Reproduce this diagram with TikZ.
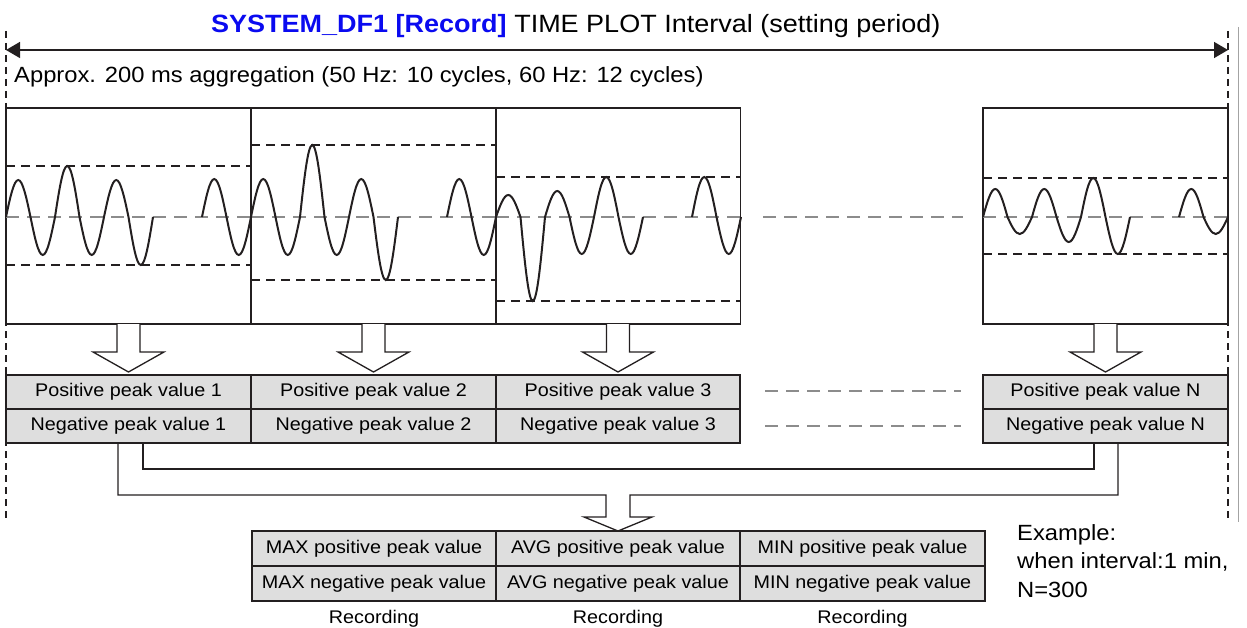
\documentclass[tikz,border=0pt]{standalone}
\usepackage{fontspec}
\setmainfont{Liberation Sans}[FakeStretch=1.08]
\usetikzlibrary{arrows.meta,calc}
\definecolor{ink}{RGB}{35,31,32}
\definecolor{titleblue}{RGB}{10,10,240}
\definecolor{cellfill}{RGB}{222,222,222}
\definecolor{midgray}{RGB}{140,140,140}
\newcommand{\wc}[2]{sin ++(12.25,-#1) cos ++(12.25,#1) sin ++(12.25,#2) cos ++(12.25,-#2)}
\tikzset{
  wbox/.style={draw=ink, line width=1.5pt, minimum width=245pt, minimum height=216pt, inner sep=0pt, outer sep=0pt},
  cell/.style={draw=ink, line width=1.3pt, fill=cellfill, minimum height=34pt, inner sep=0pt, outer sep=0pt, font=\fontsize{18.3}{22}\selectfont},
  bcell/.style={draw=ink, line width=1.3pt, fill=cellfill, minimum width=244pt, minimum height=35pt, inner sep=0pt, outer sep=0pt, font=\fontsize{18.3}{22}\selectfont},
  wave/.style={draw=ink, line width=2pt},
  peak/.style={draw=ink, line width=1.6pt, dash pattern=on 9pt off 6pt},
  mid/.style={draw=midgray, line width=1.2pt, dash pattern=on 13pt off 8pt},
  vdash/.style={draw=ink, line width=1.5pt, dash pattern=on 7pt off 5pt},
  blockarrow/.style={draw=ink, line width=1.3pt, fill=white},
  conn/.style={draw=ink, line width=1.3pt},
  lbl/.style={inner sep=0pt, font=\fontsize{22}{28}\selectfont},
}
\begin{document}
\begin{tikzpicture}[x=1pt,y=-1pt]
\useasboundingbox (0,0) rectangle (1247,628);
% title
\node[lbl, anchor=base west, font=\fontsize{25}{30}\selectfont] (title) at (211,33)
  {{\color{titleblue}\bfseries SYSTEM\_DF1 [Record]} TIME PLOT Interval (setting period)};
% boundary markers
\coordinate (lt) at (6,31);
\coordinate (lb) at (6,518);
\coordinate (rt) at (1228,31);
\coordinate (rb) at (1228,518);
\draw[vdash] (lt) -- (lb);
\draw[vdash] (rt) -- (rb);
\coordinate (gt) at (1238,27);
\coordinate (gb) at (1238,522);
\draw[draw=midgray!80, line width=1pt] (gt) -- (gb);
\coordinate (al) at (6,50);
\coordinate (ar) at (1228,50);
\draw[ink, line width=1.5pt, {Triangle[length=14pt,width=16pt]}-{Triangle[length=14pt,width=16pt]}] (al) -- (ar);
\node[lbl, anchor=base west] (approx) at (14,83) {Approx. 200 ms aggregation (50 Hz: 10 cycles, 60 Hz: 12 cycles)};
% waveform boxes
\node[wbox] (w1) at (128.5,216) {};
\node[wbox] (w2) at (373.5,216) {};
\node[wbox] (w3) at (618,216) {};
\node[wbox] (wN) at (1105.5,216) {};
% midlines
\draw[mid] (6,217) -- (251,217);
\draw[mid] (251,217) -- (496,217);
\draw[mid] (496,217) -- (740,217);
\draw[mid] (763,217) -- (963,217);
\draw[mid] (983,217) -- (1228,217);
% peak lines
\draw[peak] (6,166) -- (251,166);
\draw[peak] (6,265) -- (251,265);
\draw[peak] (251,145) -- (496,145);
\draw[peak] (251,280) -- (496,280);
\draw[peak] (496,177) -- (740,177);
\draw[peak] (496,301) -- (740,301);
\draw[peak] (983,178) -- (1228,178);
\draw[peak] (983,254) -- (1228,254);
% waves
\draw[wave] (6,217) \wc{37}{38} \wc{51}{38} \wc{37}{48} (202,217) \wc{38}{38};
\draw[wave] (251,217) \wc{38}{38} \wc{72}{38} \wc{38}{63} (447,217) \wc{38}{38};
\draw[wave] (496,217) \wc{22}{84} \wc{26}{37} \wc{40}{37} (692,217) \wc{40}{37};
\draw[wave] (983,217) \wc{28}{17} \wc{28}{25} \wc{39}{37} (1179,217) \wc{28}{17};
% block arrows
\foreach \b in {w1,w2,w3,wN}{
  \draw[blockarrow] ($(\b.south)+(-11.5,0)$) -- ++(0,28) -- ++(-24,0) -- ++(35.5,20) -- ++(35.5,-20) -- ++(-24,0) -- ++(0,-28);
}
% peak tables
\node[cell, minimum width=245pt] (p1) at (128.5,392) {Positive peak value 1};
\node[cell, minimum width=245pt] (n1) at (128.5,426) {Negative peak value 1};
\node[cell, minimum width=245pt] (p2) at (373.5,392) {Positive peak value 2};
\node[cell, minimum width=245pt] (n2) at (373.5,426) {Negative peak value 2};
\node[cell, minimum width=244pt] (p3) at (618,392) {Positive peak value 3};
\node[cell, minimum width=244pt] (n3) at (618,426) {Negative peak value 3};
\node[cell, minimum width=245pt] (pN) at (1105.5,392) {Positive peak value N};
\node[cell, minimum width=245pt] (nN) at (1105.5,426) {Negative peak value N};
\draw[mid] (765,391) -- (961,391);
\draw[mid] (765,426) -- (961,426);
% connectors to result
\coordinate (c1a) at (118,443);
\coordinate (c1b) at (143,443);
\coordinate (cNa) at (1094,443);
\coordinate (cNb) at (1118,443);
\draw[conn] (c1b) |- (1094,469) -- (cNa);
\draw[conn] (c1a) |- (606,495) -- (606,517) -- (584,517) -- (618,531) -- (652,517) -- (630,517) -- (630,495) -| (cNb);
% result table
\node[bcell] (maxp) at (374,548.5) {MAX positive peak value};
\node[bcell] (maxn) at (374,583.5) {MAX negative peak value};
\node[bcell] (avgp) at (618,548.5) {AVG positive peak value};
\node[bcell] (avgn) at (618,583.5) {AVG negative peak value};
\node[bcell, minimum width=245pt] (minp) at (862.5,548.5) {MIN positive peak value};
\node[bcell, minimum width=245pt] (minn) at (862.5,583.5) {MIN negative peak value};
\node[inner sep=0pt, font=\fontsize{18.3}{22}\selectfont, anchor=base] (r1) at (374,623) {Recording};
\node[inner sep=0pt, font=\fontsize{18.3}{22}\selectfont, anchor=base] (r2) at (618,623) {Recording};
\node[inner sep=0pt, font=\fontsize{18.3}{22}\selectfont, anchor=base] (r3) at (862.5,623) {Recording};
\node[lbl, anchor=base west] (ex1) at (1017,540) {Example:};
\node[lbl, anchor=base west] (ex2) at (1017,568.5) {when interval:1 min,};
\node[lbl, anchor=base west] (ex3) at (1017,597) {N=300};
\end{tikzpicture}
\end{document}
